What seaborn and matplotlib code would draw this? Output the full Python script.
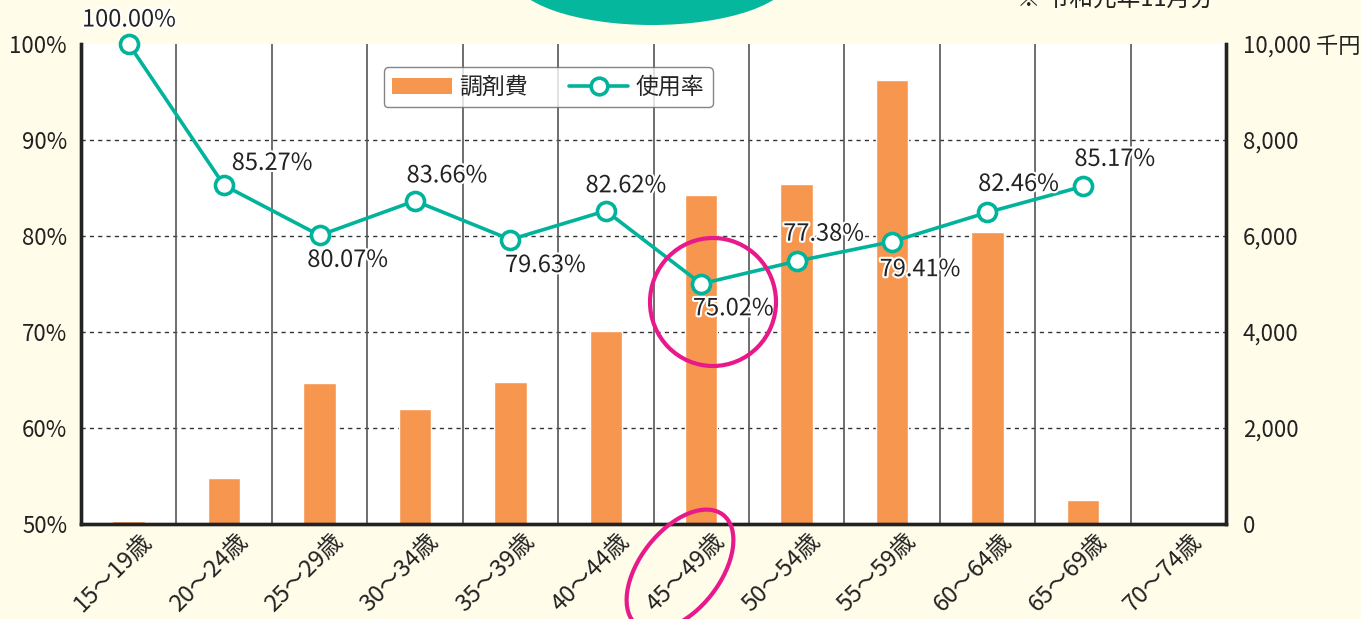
import numpy as np
import pandas as pd
import seaborn as sns
import matplotlib.pyplot as plt
import matplotlib.patheffects as pe
import matplotlib.transforms as mtrans
from matplotlib.patches import Ellipse, Patch
from matplotlib.lines import Line2D

sns.set_theme(style="white")
plt.rcParams['font.family'] = ['Noto Sans CJK JP', 'DejaVu Sans']

# data
ages = ['15～19歳', '20～24歳', '25～29歳', '30～34歳', '35～39歳', '40～44歳',
        '45～49歳', '50～54歳', '55～59歳', '60～64歳', '65～69歳', '70～74歳']
cost = [70, 960, 2940, 2400, 2960, 4030, 6850, 7080, 9250, 6080, 500, 0]   # 千円
rate = [100.00, 85.27, 80.07, 83.66, 79.63, 82.62, 75.02, 77.38, 79.41, 82.46, 85.17]
rate_labels = ['100.00%', '85.27%', '80.07%', '83.66%', '79.63%', '82.62%',
               '75.02%', '77.38%', '79.41%', '82.46%', '85.17%']
left_ticks = [50, 60, 70, 80, 90, 100]
right_ticks = [0, 2000, 4000, 6000, 8000, 10000]
right_tick_labels = ['0', '2,000', '4,000', '6,000', '8,000', '10,000 千円']

BAR = '#F7974F'
TEAL = '#00B39A'
PINK = '#E8198A'
BG = '#FFFCE9'

fig = plt.figure(figsize=(13.61, 6.19), dpi=100, facecolor=BG)
ax = fig.add_axes([81 / 1361, 95 / 619, 1145 / 1361, 480 / 619])
ax.set_facecolor('white')

# bars (right scale)
bar_df = pd.DataFrame({'age': ages, 'cost': cost})
sns.barplot(data=bar_df, x='age', y='cost', color=BAR, saturation=1,
            width=0.34, ax=ax, zorder=2)
ax.set_ylim(0, 10000)
ax.set_xlim(-0.5, len(ages) - 0.5)
ax.set_xlabel('')
ax.set_ylabel('')
for y in right_ticks[1:-1]:
    ax.axhline(y, color='#333', lw=1, ls=(0, (3, 3)), zorder=1)
for i in range(len(ages) - 1):
    ax.axvline(i + 0.5, color='#555', lw=1.2, zorder=1)
ax.set_xticks(range(len(ages)))
ax.set_xticklabels(ages, rotation=45, ha='right', rotation_mode='anchor',
                   fontsize=17, color='#222')
ax.tick_params(axis='x', length=0, pad=4)
shift = mtrans.ScaledTranslation(0.12, 0, fig.dpi_scale_trans)
for t in ax.get_xticklabels():
    t.set_transform(t.get_transform() + shift)

# line (left scale)
ax2 = ax.twinx()
line_df = pd.DataFrame({'pos': np.arange(len(rate)), 'rate': rate})
sns.lineplot(data=line_df, x='pos', y='rate', color=TEAL, lw=2.6, marker='o',
             markersize=13, markerfacecolor='white', markeredgecolor=TEAL,
             markeredgewidth=2.6, ax=ax2, zorder=5, clip_on=False)
ax2.set_ylim(50, 100)
ax2.yaxis.tick_left()
ax2.set_yticks(left_ticks)
ax2.set_yticklabels([f'{t}%' for t in left_ticks], fontsize=16, color='#222')
ax2.tick_params(axis='y', length=0, pad=10)
ax2.set_xlabel('')
ax2.set_ylabel('')

# twinx moved the bar axis ticks to the left, put them back on the right
ax.yaxis.tick_right()
ax.set_yticks(right_ticks)
ax.set_yticklabels(right_tick_labels, fontsize=16, color='#222')
ax.tick_params(axis='y', length=0, pad=12)

offsets = [(0, 24), (48, 22), (28, -25), (32, 25), (35, -26), (20, 25),
           (32, -25), (27, 27), (28, -28), (31, 28), (32, 27)]
for i, (lab, off) in enumerate(zip(rate_labels, offsets)):
    ax2.annotate(lab, (i, rate[i]), xytext=off, textcoords='offset pixels',
                 ha='center', va='center', fontsize=17, color='#222',
                 zorder=6, annotation_clip=False,
                 path_effects=[pe.withStroke(linewidth=3, foreground='white')])

for a in (ax, ax2):
    a.spines['top'].set_visible(False)
    for s in ('left', 'right', 'bottom'):
        a.spines[s].set_color('#222')
        a.spines[s].set_linewidth(2.4)

handles = [Patch(facecolor=BAR, edgecolor='none'),
           Line2D([], [], color=TEAL, lw=2.6, marker='o', markersize=12,
                  markerfacecolor='white', markeredgecolor=TEAL, markeredgewidth=2.6)]
leg = ax2.legend(handles, ['調剤費', '使用率'], ncol=2, loc='center',
                 bbox_to_anchor=(0.408, 0.91), fontsize=16.5, frameon=True,
                 fancybox=True, edgecolor='#666', facecolor='white',
                 handlelength=2.6, handletextpad=0.3, columnspacing=1.8,
                 borderpad=0.38)
leg.get_frame().set_linewidth(1)
leg.set_zorder(10)

# decorations: banner, note, highlight circles
fig.patches.append(Ellipse((6.52, 6.44), 2.8, 1.0, transform=fig.dpi_scale_trans,
                           facecolor='#05B79C', edgecolor='none', zorder=0))
fig.text(1017 / 1361, 1.0, '※ 令和元年11月分', fontsize=17, color='#222',
         ha='left', va='center')
fig.patches.append(Ellipse((7.13, 3.17), 1.26, 1.28, transform=fig.dpi_scale_trans,
                           facecolor='none', edgecolor=PINK, lw=3, zorder=20))
fig.patches.append(Ellipse((6.8, 0.49), 1.4, 0.8, angle=52,
                           transform=fig.dpi_scale_trans,
                           facecolor='none', edgecolor=PINK, lw=3, zorder=20))

fig.savefig('out.png', dpi=100, facecolor=BG)
